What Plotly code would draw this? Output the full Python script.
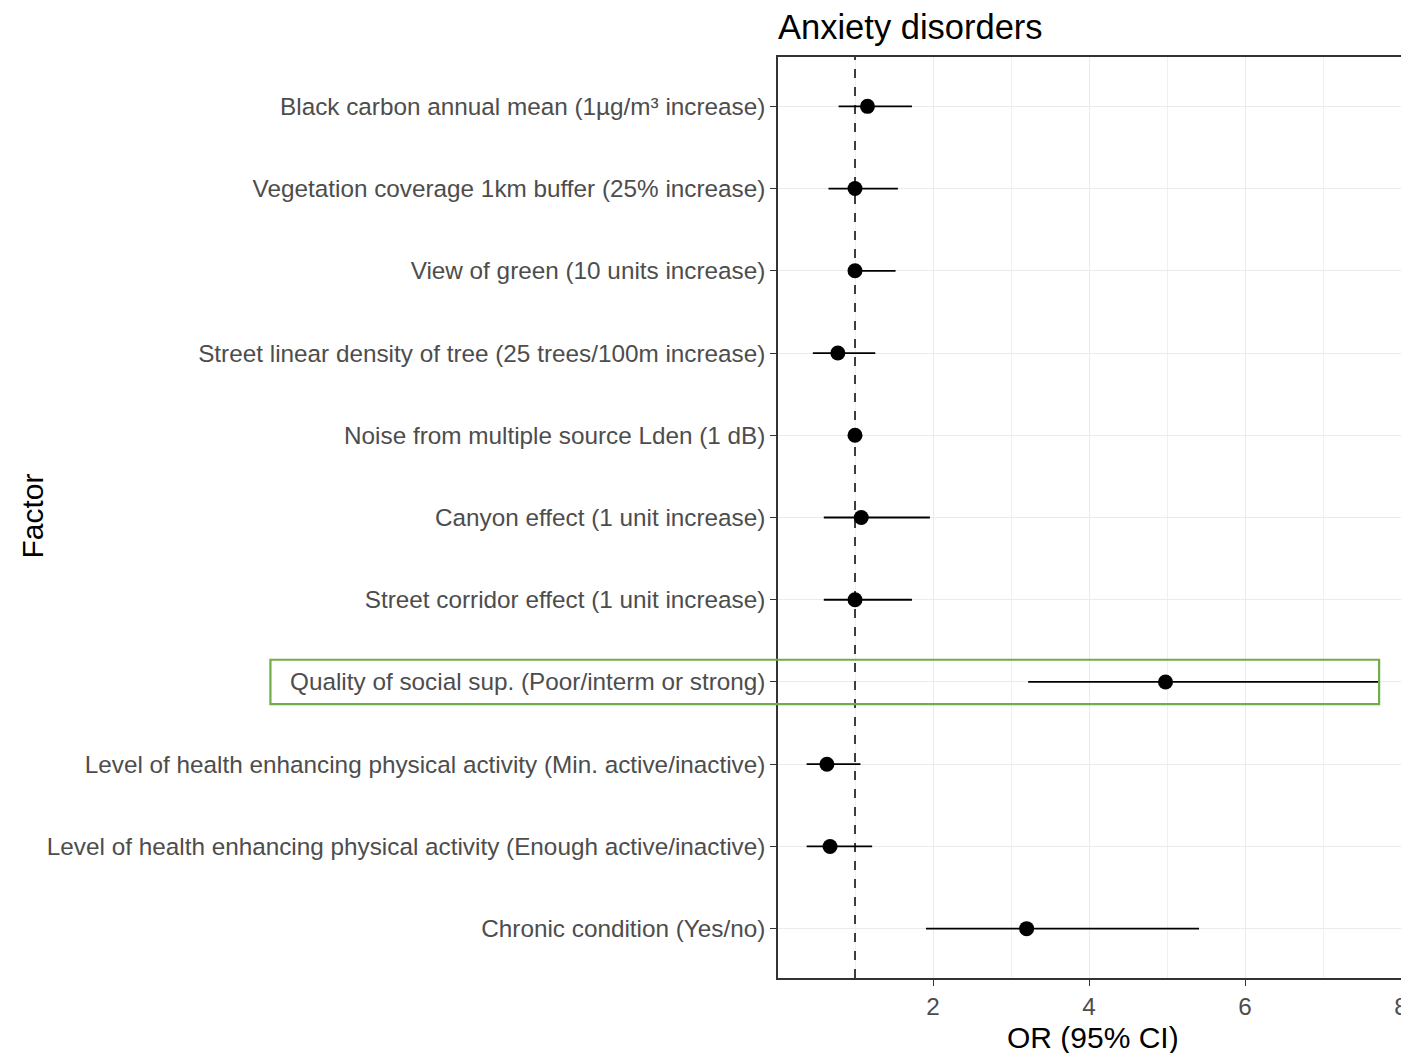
import plotly.graph_objects as go

# factors, top to bottom as in the figure
factors = [
    "Black carbon annual mean (1µg/m³ increase)",
    "Vegetation coverage 1km buffer (25% increase)",
    "View of green (10 units increase)",
    "Street linear density of tree (25 trees/100m increase)",
    "Noise from multiple source Lden (1 dB)",
    "Canyon effect (1 unit increase)",
    "Street corridor effect (1 unit increase)",
    "Quality of social sup. (Poor/interm or strong)",
    "Level of health enhancing physical activity (Min. active/inactive)",
    "Level of health enhancing physical activity (Enough active/inactive)",
    "Chronic condition (Yes/no)",
]
odds_ratio = [1.16, 1.00, 1.00, 0.78, 1.00, 1.08, 1.00, 4.98, 0.64, 0.68, 3.20]
ci_low = [0.79, 0.66, 0.95, 0.46, 0.97, 0.60, 0.60, 3.22, 0.38, 0.38, 1.91]
ci_high = [1.73, 1.55, 1.52, 1.26, 1.03, 1.96, 1.73, 7.72, 1.07, 1.22, 5.41]

highlight = "Quality of social sup. (Poor/interm or strong)"

# the page body adds an 8px margin, so the figure is 8px smaller than the window
W, H = 1401, 1045
left, right, top, bottom = 770, 1, 49, 75
pw = W - left - right
ph = H - top - bottom

err_plus = [h - o for h, o in zip(ci_high, odds_ratio)]
err_minus = [o - l for o, l in zip(odds_ratio, ci_low)]

fig = go.Figure()
fig.add_trace(go.Scatter(
    x=odds_ratio, y=factors, mode="markers",
    marker=dict(color="black", size=15),
    error_x=dict(type="data", symmetric=False, array=err_plus, arrayminus=err_minus,
                 color="black", thickness=1.8, width=0),
    showlegend=False,
))

# reference line at OR = 1
fig.add_vline(x=1, line=dict(color="black", width=1.5, dash="dash"))

# highlight box around the social support row
order = factors[::-1]
hi = order.index(highlight)
fig.add_shape(type="rect", xref="paper", yref="y",
              x0=(260 - left) / pw, x1=(1374 - left) / pw,
              y0=hi - 0.27, y1=hi + 0.27,
              line=dict(color="#70AD47", width=2.2), fillcolor="rgba(0,0,0,0)")

# axis titles
fig.add_annotation(text="Factor", xref="paper", yref="paper",
                   x=(20 - left) / pw, y=1 - (508 - top) / ph,
                   xanchor="center", yanchor="middle",
                   textangle=-90, showarrow=False, font=dict(size=30, color="black"))
fig.add_annotation(text="OR (95% CI)", xref="paper", yref="paper",
                   x=(1087 - left) / pw, y=-(1029 - top - ph) / ph,
                   xanchor="center", yanchor="middle",
                   showarrow=False, font=dict(size=30, color="black"))

fig.update_layout(
    width=W, height=H,
    margin=dict(l=left, r=right, t=top, b=bottom),
    plot_bgcolor="white", paper_bgcolor="white",
    font=dict(family="Liberation Sans, Arial, sans-serif", color="black"),
    title=dict(text="Anxiety disorders", x=left / W, xanchor="left",
               y=1 - 19 / H, yanchor="middle", font=dict(size=34.5, color="black")),
)
fig.update_xaxes(
    range=[0.013, 8.05],
    tickvals=[2, 4, 6, 8],
    tickfont=dict(size=24.3, color="#4D4D4D"),
    ticklabeloverflow="allow",
    ticks="outside", ticklen=6, tickcolor="#333333",
    showgrid=True, gridcolor="#EBEBEB", gridwidth=1.3,
    minor=dict(tickvals=[1, 3, 5, 7], showgrid=True, gridcolor="#F0F0F0", gridwidth=1),
    showline=True, linecolor="#333333", linewidth=1.5, mirror=True,
    zeroline=False,
)
fig.update_yaxes(
    type="category", categoryorder="array", categoryarray=order,
    range=[-0.6, len(order) - 0.4],
    tickfont=dict(size=24.3, color="#4D4D4D"),
    ticks="outside", ticklen=6, tickcolor="#333333",
    showgrid=True, gridcolor="#EBEBEB", gridwidth=1.3,
    showline=True, linecolor="#333333", linewidth=1.5, mirror=True,
    zeroline=False,
)

fig.write_html("out.html")
